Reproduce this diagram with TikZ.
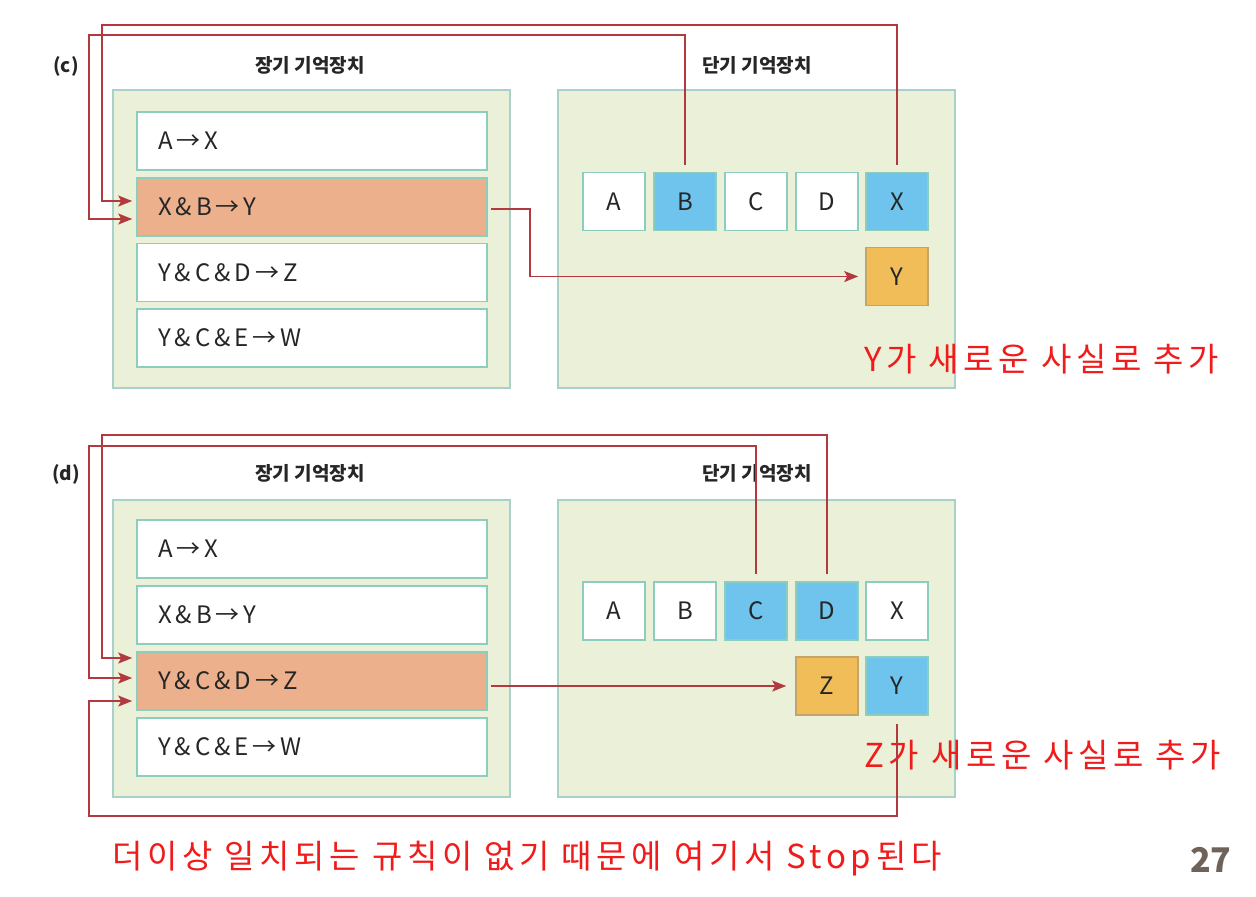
\documentclass[tikz,border=0pt]{standalone}
\usepackage{fontspec}
\setmainfont{Noto Sans CJK KR}
\newfontfamily\redfont[LetterSpace=14]{Noto Sans CJK KR}
\usetikzlibrary{arrows.meta,calc}
\definecolor{gfill}{HTML}{EBF1D8}
\definecolor{gdraw}{HTML}{A8D2C9}
\definecolor{rdraw}{HTML}{8DCDBD}
\definecolor{orng}{HTML}{EDB08D}
\definecolor{blu}{HTML}{6EC4EC}
\definecolor{yel}{HTML}{F1BD58}
\definecolor{lred}{HTML}{B23A3E}
\definecolor{tred}{HTML}{F01C1C}
\definecolor{pnum}{HTML}{6E6259}
\definecolor{ink}{HTML}{262626}
\begin{document}
\begin{tikzpicture}[x=0.5pt,y=-0.5pt,
  memarea/.style={draw=gdraw, fill=gfill, line width=0.8pt, minimum width=198.5pt, inner sep=0pt},
  rulebox/.style={draw=rdraw, fill=white, line width=0.8pt, minimum height=29pt, text width=154pt, inner xsep=10.5pt, inner ysep=0pt, align=left, font=\fontsize{12}{14}\selectfont, text=ink},
  fact/.style={draw=rdraw, fill=white, line width=0.8pt, minimum width=31pt, minimum height=29pt, inner sep=0pt, font=\fontsize{12}{14}\selectfont, text=ink},
  hot/.style={fill=orng},
  used/.style={fill=blu},
  newf/.style={fill=yel, draw=yel!60!gray},
  ttl/.style={font=\bfseries\fontsize{9.5}{11}\selectfont, text=ink, inner sep=0pt},
  redtxt/.style={font=\redfont\fontsize{16.5}{19}\selectfont, text=tred, inner sep=0pt, anchor=west},
  conn/.style={draw=lred, line width=0.75pt},
  arr/.style={conn, -{Stealth[length=7pt,width=5.5pt,inset=1.5pt]}}
]
\useasboundingbox (0,0) rectangle (1256,896);

% ---------------- panel (c)
\node[ttl] (lblc) at (66,66) {(c)};
\node[ttl] (ttlLc) at (310,65) {장기 기억장치};
\node[ttl] (ttlSc) at (757,65) {단기 기억장치};
\node[memarea, minimum height=149pt] (ltc) at (311.5,239) {};
\node[memarea, minimum height=149pt] (stc) at (756.5,239) {};

\node[rulebox] (r1c) at (312,141) {A\,→\,X};
\node[rulebox, hot] (r2c) at (312,207) {X\,\&\,B\,→\,Y};
\node[rulebox] (r3c) at (312,272.5) {Y\,\&\,C\,\&\,D\,→\,Z};
\node[rulebox] (r4c) at (312,338) {Y\,\&\,C\,\&\,E\,→\,W};

\node[fact] (ac) at (614,201.5) {A};
\node[fact, used] (bc) at (685,201.5) {B};
\node[fact] (cc) at (756,201.5) {C};
\node[fact] (dc) at (827,201.5) {D};
\node[fact, used] (xc) at (897,201.5) {X};
\node[fact, newf] (yc) at (897,276.5) {Y};

\node[redtxt] (notec) at (864,359) {Y가 새로운 사실로 추가};

\draw[arr] ([yshift=3.5pt]xc.north) |- (102,25) |- ([xshift=-2pt,yshift=3pt]r2c.west);
\draw[arr] ([yshift=3.5pt]bc.north) |- (89,35) |- ([xshift=-2pt,yshift=-6pt]r2c.west);
\draw[arr] ([xshift=1.5pt,yshift=-1pt]r2c.east) -- (530,209) |- ([xshift=-3.5pt]yc.west);

% ---------------- panel (d)
\node[ttl] (lbld) at (66,474) {(d)};
\node[ttl] (ttlLd) at (310,473) {장기 기억장치};
\node[ttl] (ttlSd) at (757,473) {단기 기억장치};
\node[memarea, minimum height=148.5pt] (ltd) at (311.5,648.5) {};
\node[memarea, minimum height=148.5pt] (std) at (756.5,648.5) {};

\node[rulebox] (r1d) at (312,549) {A\,→\,X};
\node[rulebox] (r2d) at (312,615) {X\,\&\,B\,→\,Y};
\node[rulebox, hot] (r3d) at (312,681) {Y\,\&\,C\,\&\,D\,→\,Z};
\node[rulebox] (r4d) at (312,747) {Y\,\&\,C\,\&\,E\,→\,W};

\node[fact] (ad) at (614,611) {A};
\node[fact] (bd) at (685,611) {B};
\node[fact, used] (cd) at (756,611) {C};
\node[fact, used] (dd) at (827,611) {D};
\node[fact] (xd) at (897,611) {X};
\node[fact, newf] (zd) at (827,686) {Z};
\node[fact, used] (yd) at (897,686) {Y};

\node[redtxt] (noted) at (864,755) {Z가 새로운 사실로 추가};

\draw[arr] ([yshift=3.5pt]dd.north) |- (102,435) |- ([xshift=-2pt,yshift=11.5pt]r3d.west);
\draw[arr] ([yshift=3.5pt]cd.north) |- (89,446) |- ([xshift=-2pt,yshift=1.5pt]r3d.west);
\draw[arr] ([yshift=-4pt]yd.south) |- (89,816) |- ([xshift=-2pt,yshift=-10pt]r3d.west);
\draw[arr] ($(r3d.east |- zd.west)+(3,0)$) -- ([xshift=-4.5pt]zd.west);

% ---------------- footer
\node[redtxt] (stop) at (112,859) {더이상 일치되는 규칙이 없기 때문에 여기서 Stop된다};
\node[font=\bfseries\fontsize{17}{20}\selectfont, text=pnum, inner sep=0pt, anchor=east] (pg) at (1232,860) {27};
\end{tikzpicture}
\end{document}
